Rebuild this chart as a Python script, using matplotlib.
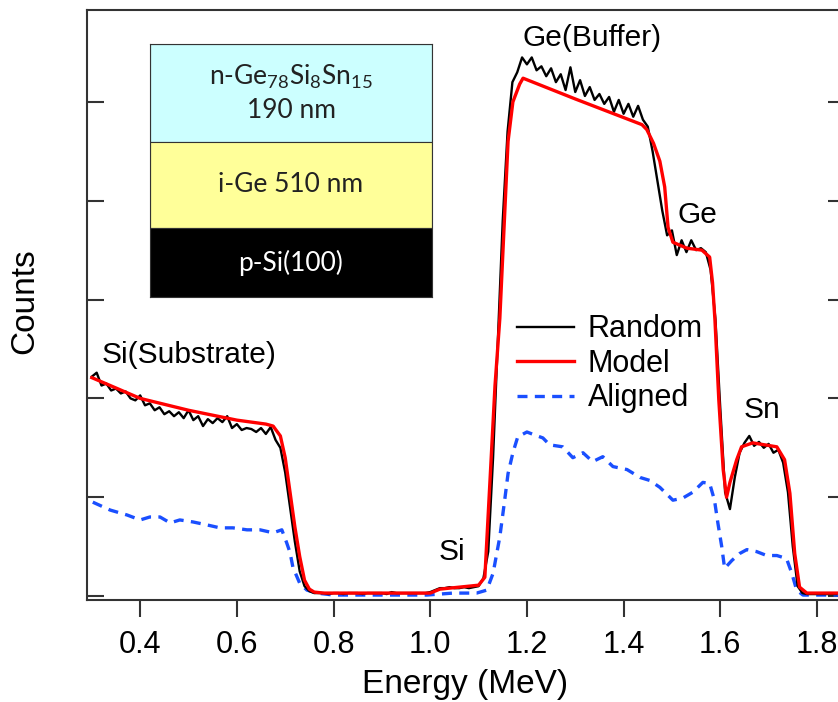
import numpy as np
import matplotlib
matplotlib.use('Agg')
import matplotlib.pyplot as plt
from matplotlib.patches import Rectangle

plt.rcParams['font.family'] = ['Liberation Sans', 'DejaVu Sans']
plt.rcParams['mathtext.default'] = 'regular'

# Random spectrum (black), 0.01 MeV steps from 0.30 to 1.84
random_energy = np.round(np.arange(0.30, 1.845, 0.01), 2)
random_counts = [
    2.22, 2.26, 2.13, 2.15, 2.08, 2.10, 2.05, 2.07, 2.00, 1.98,   # 0.30-0.39
    2.03, 1.93, 1.95, 1.88, 1.91, 1.84, 1.87, 1.82, 1.86, 1.80,   # 0.40-0.49
    1.88, 1.78, 1.82, 1.72, 1.79, 1.75, 1.80, 1.76, 1.82, 1.70,   # 0.50-0.59
    1.74, 1.68, 1.70, 1.69, 1.66, 1.70, 1.64, 1.71, 1.58, 1.50,   # 0.60-0.69
    1.25, 0.90, 0.55, 0.25, 0.10, 0.05, 0.03, 0.03, 0.03, 0.02,   # 0.70-0.79
    0.03, 0.03, 0.02, 0.03, 0.03, 0.03, 0.02, 0.03, 0.03, 0.03,   # 0.80-0.89
    0.03, 0.02, 0.04, 0.03, 0.03, 0.03, 0.03, 0.03, 0.03, 0.03,   # 0.90-0.99
    0.04, 0.06, 0.08, 0.08, 0.09, 0.08, 0.08, 0.09, 0.08, 0.09,   # 1.00-1.09
    0.10, 0.18, 0.45, 1.40, 2.60, 3.80, 4.70, 5.20, 5.30, 5.45,   # 1.10-1.19
    5.38, 5.45, 5.32, 5.36, 5.26, 5.34, 5.20, 5.28, 5.12, 5.35,   # 1.20-1.29
    5.10, 5.22, 5.06, 5.15, 5.02, 5.08, 4.98, 5.05, 4.90, 5.02,   # 1.30-1.39
    4.88, 4.98, 4.85, 4.96, 4.82, 4.75, 4.50, 4.20, 3.90, 3.65,   # 1.40-1.49
    3.70, 3.45, 3.60, 3.48, 3.60, 3.50, 3.52, 3.48, 3.30, 2.80,   # 1.50-1.59
    1.90, 1.05, 0.88, 1.20, 1.45, 1.55, 1.62, 1.52, 1.56, 1.50,   # 1.60-1.69
    1.54, 1.45, 1.48, 1.35, 1.05, 0.50, 0.10, 0.03, 0.02, 0.02,   # 1.70-1.79
    0.02, 0.02, 0.02, 0.02, 0.02,                                 # 1.80-1.84
]

# Model (red)
model_energy = [0.30, 0.40, 0.50, 0.60, 0.66, 0.675, 0.69, 0.70, 0.71, 0.72,
                0.73, 0.74, 0.75, 0.76, 0.78, 1.00, 1.02, 1.04, 1.10, 1.113,
                1.123, 1.134, 1.144, 1.161, 1.171, 1.185, 1.192, 1.30, 1.438, 1.448,
                1.462, 1.475, 1.485, 1.492, 1.502, 1.531, 1.562, 1.578, 1.584, 1.589,
                1.597, 1.606, 1.613, 1.620, 1.634, 1.644, 1.667, 1.717, 1.733, 1.744,
                1.754, 1.764, 1.779, 1.845]
model_counts = [2.21, 2.00, 1.88, 1.78, 1.74, 1.72, 1.62, 1.40, 1.05, 0.70,
                0.40, 0.16, 0.07, 0.04, 0.03, 0.03, 0.07, 0.08, 0.11, 0.19,
                1.11, 2.13, 2.81, 4.60, 5.00, 5.18, 5.24, 5.03, 4.77, 4.72,
                4.58, 4.40, 4.14, 3.73, 3.58, 3.52, 3.50, 3.43, 3.17, 2.79,
                1.98, 1.28, 1.00, 1.15, 1.38, 1.51, 1.55, 1.51, 1.38, 1.04,
                0.43, 0.09, 0.03, 0.03]

# Aligned spectrum (blue dashed)
aligned_energy = [0.302, 0.338, 0.373, 0.400, 0.420, 0.441, 0.462, 0.482, 0.509, 0.538,
                  0.565, 0.592, 0.621, 0.648, 0.675, 0.693, 0.703, 0.710, 0.716, 0.730,
                  0.745, 0.766, 0.80, 0.90, 0.993, 1.047, 1.096, 1.117, 1.130, 1.144,
                  1.154, 1.161, 1.171, 1.181, 1.200, 1.216, 1.233, 1.247, 1.274, 1.295,
                  1.316, 1.336, 1.357, 1.378, 1.407, 1.434, 1.454, 1.475, 1.502, 1.522,
                  1.543, 1.564, 1.578, 1.588, 1.595, 1.603, 1.609, 1.624, 1.640, 1.655,
                  1.675, 1.696, 1.717, 1.737, 1.748, 1.758, 1.771, 1.845]
aligned_counts = [0.95, 0.87, 0.82, 0.77, 0.80, 0.80, 0.74, 0.77, 0.75, 0.72,
                  0.69, 0.69, 0.67, 0.67, 0.64, 0.67, 0.54, 0.44, 0.29, 0.13,
                  0.06, 0.03, 0.01, 0.01, 0.01, 0.03, 0.03, 0.06, 0.23, 0.60,
                  0.97, 1.24, 1.45, 1.61, 1.66, 1.63, 1.60, 1.53, 1.51, 1.40,
                  1.45, 1.36, 1.41, 1.31, 1.28, 1.20, 1.17, 1.10, 0.97, 0.99,
                  1.05, 1.15, 1.14, 0.97, 0.74, 0.50, 0.28, 0.36, 0.43, 0.47,
                  0.45, 0.41, 0.41, 0.38, 0.23, 0.06, 0.01, 0.01]

# Peak labels
peak_labels = ['Si(Substrate)', 'Si', 'Ge(Buffer)', 'Ge', 'Sn']
peak_x = [0.321, 1.045, 1.334, 1.553, 1.686]
peak_y = [2.44, 0.45, 5.65, 3.86, 1.88]
peak_ha = ['left', 'center', 'center', 'center', 'center']

# Sample stack (top to bottom)
layer_names = ['n-Ge$_{78}$Si$_8$Sn$_{15}$\n190 nm', 'i-Ge 510 nm', 'p-Si(100)']
layer_colors = ['#ccffff', '#ffff99', '#000000']
layer_text_colors = ['#222222', '#222222', '#ffffff']
layer_heights = [0.387, 0.340, 0.273]

fig = plt.figure(figsize=(8.38, 7.02), dpi=100)
ax = fig.add_axes([87 / 838, 1 - 600 / 702, (845 - 87) / 838, (600 - 10) / 702])

ax.plot(random_energy, random_counts, color='black', lw=1.7, label='Random', zorder=3)
ax.plot(model_energy, model_counts, color='#ff0000', lw=2.4, label='Model', zorder=4)
ax.plot(aligned_energy, aligned_counts, color='#1a4fff', lw=2.4, ls=(0, (3, 2.2)),
        label='Aligned', zorder=2)

ax.set_xlim(0.29, 1.858)
ax.set_ylim(-0.04, 5.93)
ax.set_xticks([0.4, 0.6, 0.8, 1.0, 1.2, 1.4, 1.6, 1.8])
ax.set_yticks([0, 1, 2, 3, 4, 5])
ax.tick_params(axis='x', direction='out', length=12, width=1.5, labelsize=22,
               pad=9.5, color='#333333')
ax.tick_params(axis='y', direction='in', length=12, width=1.5, left=True,
               right=True, labelleft=False, color='#333333')
for s in ax.spines.values():
    s.set_linewidth(1.5)
    s.set_color('#333333')

ax.set_xlabel('Energy (MeV)', fontsize=24)
ax.set_ylabel('Counts', fontsize=24)
ax.xaxis.set_label_coords(0.499, -0.117)
ax.yaxis.set_label_coords(-0.062, 0.507)

for txt, x, y, ha in zip(peak_labels, peak_x, peak_y, peak_ha):
    ax.text(x, y, txt, fontsize=21.5, ha=ha, va='center')

ax.legend(loc='upper left', bbox_to_anchor=(0.551, 0.505), frameon=False,
          fontsize=22, handlelength=1.87, handletextpad=0.45, labelspacing=0.15,
          borderaxespad=0)

# inset sample stack
ins = fig.add_axes([150 / 838, 1 - 297 / 702, (432 - 150) / 838, (297 - 44) / 702])
ins.set_xlim(0, 1)
ins.set_ylim(0, 1)
ins.set_xticks([])
ins.set_yticks([])
top = 1.0
for name, c, tc, h in zip(layer_names, layer_colors, layer_text_colors, layer_heights):
    ins.add_patch(Rectangle((0, top - h), 1, h, facecolor=c, edgecolor='#333333', lw=0.8))
    ins.text(0.5, top - h / 2, name, ha='center', va='center', color=tc,
             fontsize=19, family=['Lato', 'DejaVu Sans'], linespacing=1.35)
    top -= h
for s in ins.spines.values():
    s.set_linewidth(0.8)
    s.set_color('#333333')

fig.savefig('out.png', dpi=100)
